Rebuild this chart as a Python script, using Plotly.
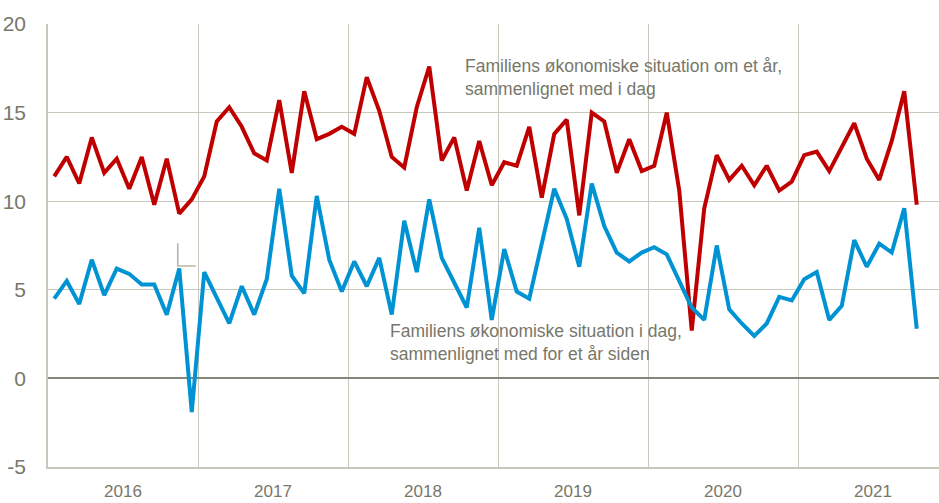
import plotly.graph_objects as go

years = ["2016", "2017", "2018", "2019", "2020", "2021"]
months_per_year = 12
y_ticks = [-5, 0, 5, 10, 15, 20]
y_tick_text = ["-5", "0", "5", "10", "15", "20"]

fremtid = [11.4, 12.5, 11.0, 13.6, 11.6, 12.4, 10.7, 12.5, 9.8, 12.4, 9.3, 10.1,
           11.4, 14.5, 15.3, 14.2, 12.7, 12.3, 15.7, 11.6, 16.2, 13.5, 13.8, 14.2,
           13.8, 17.0, 15.1, 12.5, 11.9, 15.3, 17.6, 12.3, 13.6, 10.6, 13.4, 10.9,
           12.2, 12.0, 14.2, 10.2, 13.8, 14.6, 9.2, 15.0, 14.5, 11.6, 13.5, 11.7,
           12.0, 15.0, 10.6, 2.7, 9.6, 12.6, 11.2, 12.0, 10.9, 12.0, 10.6, 11.1,
           12.6, 12.8, 11.7, 13.1, 14.4, 12.4, 11.2, 13.4, 16.2, 9.8]

nutid = [4.5, 5.5, 4.2, 6.7, 4.7, 6.2, 5.9, 5.3, 5.3, 3.6, 6.2, -1.9,
         6.0, 4.5, 3.1, 5.2, 3.6, 5.6, 10.7, 5.8, 4.8, 10.3, 6.7, 4.9,
         6.6, 5.2, 6.8, 3.6, 8.9, 6.0, 10.1, 6.8, 5.4, 4.0, 8.5, 3.3,
         7.3, 4.9, 4.5, 7.7, 10.7, 9.0, 6.3, 11.0, 8.6, 7.1, 6.6, 7.1,
         7.4, 7.0, 5.5, 4.0, 3.3, 7.5, 3.9, 3.1, 2.4, 3.1, 4.6, 4.4,
         5.6, 6.0, 3.3, 4.1, 7.8, 6.3, 7.6, 7.1, 9.6, 2.8]

label_fremtid = "Familiens økonomiske situation om et år,<br>sammenlignet med i dag"
label_nutid = "Familiens økonomiske situation i dag,<br>sammenlignet med for et år siden"

# small grey tick artefact near late 2016
marker_x = [9.88, 9.88, 11.32]
marker_y = [7.62, 6.34, 6.34]

RED = "#C00000"
BLUE = "#0093D3"
GRID = "#CAC8BC"
TEXT = "#77776A"

x = list(range(len(fremtid)))
year_centers = [i * months_per_year + 5.5 for i in range(len(years))]

fig = go.Figure()
fig.add_trace(go.Scatter(x=x, y=fremtid, mode="lines",
                         line=dict(color=RED, width=4), showlegend=False,
                         hoverinfo="skip"))
fig.add_trace(go.Scatter(x=x, y=nutid, mode="lines",
                         line=dict(color=BLUE, width=4), showlegend=False,
                         hoverinfo="skip"))
fig.add_trace(go.Scatter(x=marker_x, y=marker_y, mode="lines",
                         line=dict(color="#B8B6A8", width=1.6), showlegend=False,
                         hoverinfo="skip"))

fig.add_annotation(x=32.7, y=18.28, xref="x", yref="y", text=label_fremtid,
                   showarrow=False, xanchor="left", yanchor="top", align="left",
                   font=dict(family="Liberation Sans, Arial", size=17.5, color=TEXT))
fig.add_annotation(x=26.66, y=3.37, xref="x", yref="y", text=label_nutid,
                   showarrow=False, xanchor="left", yanchor="top", align="left",
                   font=dict(family="Liberation Sans, Arial", size=17.5, color=TEXT))

fig.update_layout(
    width=939, height=503,
    margin=dict(l=48, r=0, t=24, b=36),
    paper_bgcolor="white", plot_bgcolor="white",
    xaxis=dict(
        range=[-0.5, 70.78], automargin=False,
        tickmode="array", tickvals=year_centers, ticktext=years,
        ticks="", showgrid=False, zeroline=False,
        showline=True, linecolor=GRID, linewidth=1.5,
        tickfont=dict(family="Liberation Sans Narrow, Arial Narrow, Arial", size=17, color=TEXT),
        ticklabelstandoff=8,
        minor=dict(tick0=-0.5, dtick=12, showgrid=True, gridcolor=GRID, gridwidth=1, ticks=""),
    ),
    yaxis=dict(
        range=[-5, 20], automargin=False,
        tickmode="array", tickvals=y_ticks, ticktext=y_tick_text,
        showgrid=True, gridcolor=GRID, gridwidth=1.2,
        zeroline=True, zerolinecolor="#86857A", zerolinewidth=2,
        showline=True, linecolor=GRID, linewidth=1.5,
        ticks="",
        tickfont=dict(family="Liberation Sans Narrow, Arial Narrow, Arial", size=21, color=TEXT),
        ticklabelstandoff=16,
    ),
)

fig.write_html("out.html", config={"displayModeBar": False},
               post_script="document.body.style.margin='0';document.body.style.overflow='hidden';")
